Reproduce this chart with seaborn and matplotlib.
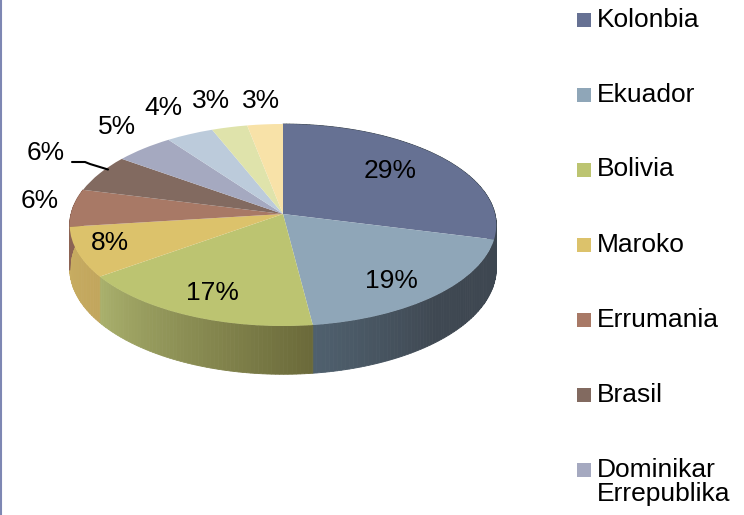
import numpy as np
import matplotlib
matplotlib.use("Agg")
import matplotlib.pyplot as plt
import matplotlib.transforms as mtransforms
import seaborn as sns

categories = ["Kolonbia", "Ekuador", "Bolivia", "Maroko", "Errumania", "Brasil",
              "Dominikar\nErrepublika", "Argentina", "Peru", "Beste batzuk"]
shares = [29, 19, 17, 8, 6, 6, 5, 4, 3, 3]
top_colors = ["#667193", "#8fa6b8", "#bcc471", "#dcc26b", "#a87966",
              "#826a60", "#a5a9c0", "#bccbdb", "#dfe3ab", "#f8e2a8"]
# wall gradient, in clockwise order round the pie
wall_colors = {
    0: ["#3c4650", "#3c4650"],
    1: ["#3d4650", "#3f4852", "#4f606e"],
    2: ["#6b6a3a", "#a9b06c"],
    3: ["#c2a65d", "#c8ad62"],
    4: ["#8c6354", "#8c6354"],
}
label_pos = [(390, 171), (391, 281), (212, 293), (110, 243), (40, 201),
             (46, 153), (117, 127), (163, 108), (211, 101), (261, 101)]
legend_y = [20, 94.5, 169.5, 245, 320, 395, 470]

# pie layout in pixels
CX, CY = 283, 214
RX, RY = 212, 99.8
PERSP = 0.109
DEPTH = 43


def project(x, y):
    w = 1 + PERSP * y
    return CX + RX * x / w, CY - RY * y / w


class TiltTransform(mtransforms.Transform):
    input_dims = 2
    output_dims = 2

    def transform_non_affine(self, values):
        values = np.asarray(values)
        px, py = project(values[:, 0], values[:, 1])
        return np.column_stack([px, py])


def rim(theta_deg):
    # theta counted clockwise from the top of the pie
    t = np.radians(theta_deg)
    x, y = np.sin(t), np.cos(t)
    px, py = project(x, y)
    return px, py, py + DEPTH / (1 + PERSP * y)


sns.set_theme(style="white")
plt.rcParams["font.family"] = ["Liberation Sans", "DejaVu Sans"]

fig = plt.figure(figsize=(7.44, 5.15), dpi=100)
ax = fig.add_axes([0, 0, 1, 1])

wedges, _ = ax.pie(shares, colors=top_colors, startangle=90, counterclock=False,
                   wedgeprops={"linewidth": 0, "zorder": 3})
ax.set_aspect("auto")
ax.set_xlim(0, 744)
ax.set_ylim(515, 0)
ax.set_axis_off()

tilt = TiltTransform() + ax.transData
for w in wedges:
    w.set_transform(tilt)

# side wall, thin strips with a gradient per slice
bounds = np.cumsum([0] + shares) * 3.6
for i, stops in wall_colors.items():
    start, end = bounds[i], bounds[i + 1]
    n = max(2, int(end - start))
    pal = sns.blend_palette(stops, n_colors=n)
    edges = np.linspace(start, end, n + 1)
    for k in range(n):
        px, up, low = rim(np.linspace(edges[k], edges[k + 1], 4))
        ax.fill(np.r_[px, px[::-1]], np.r_[up, low[::-1]], color=pal[k], lw=0.6, zorder=2)

for v, (x, y) in zip(shares, label_pos):
    ax.text(x, y, f"{v}%", fontsize=19, color="black", ha="center", va="center", zorder=5)

# leader line of the Brasil label
ax.plot([72, 85, 90, 108], [162, 162, 164, 169.5], color="black", lw=1.5, zorder=4)

# legend, the last entries fall off the picture
for name, col, y in zip(categories, top_colors, legend_y):
    ax.scatter([584], [y], marker="s", s=96, color=col, linewidths=0, zorder=5)
    ax.text(597, y - 12, name, fontsize=19, color="black", ha="left", va="top",
            linespacing=1.02, zorder=5)

ax.axvline(1, color="#7e87b3", lw=1.5)

fig.savefig("out.png", dpi=100)
